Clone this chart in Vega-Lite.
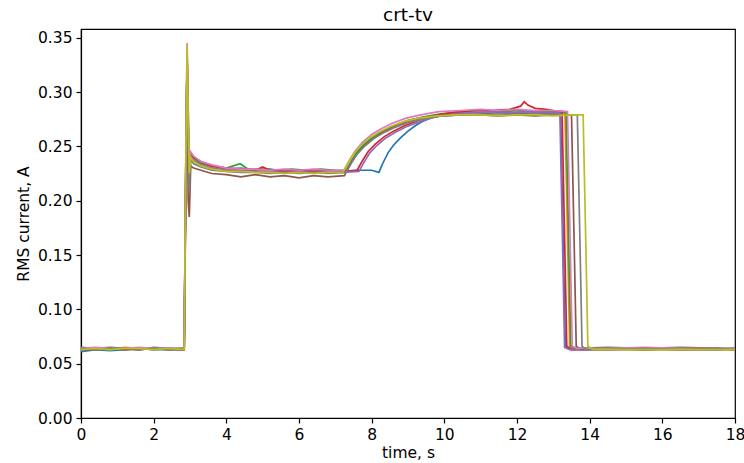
{
  "$schema": "https://vega.github.io/schema/vega-lite/v6.json",
  "width": 654,
  "height": 389,
  "autosize": "none",
  "padding": {"left": 81, "top": 29, "right": 9, "bottom": 45},
  "background": "white",
  "title": {"text": "crt-tv", "font": "DejaVu Sans", "fontSize": 18.5, "fontWeight": "normal", "color": "black", "anchor": "middle", "offset": 5},
  "config": {
    "view": {"stroke": "black", "strokeWidth": 1.2},
    "axis": {
      "labelFont": "DejaVu Sans", "labelFontSize": 15.5, "labelColor": "black", "labelFlush": false,
      "titleFont": "DejaVu Sans", "titleFontSize": 15.5, "titleFontWeight": "normal", "titleColor": "black",
      "domainColor": "black", "domainWidth": 1.2, "tickColor": "black", "tickWidth": 1.2, "tickSize": 5,
      "grid": false, "labelPadding": 4
    }
  },
  "data": {"values": [
    {"r":"r1","t":0,"a":0.061},{"r":"r1","t":0.4,"a":0.063},{"r":"r1","t":0.8,"a":0.062},{"r":"r1","t":1.2,"a":0.063},{"r":"r1","t":1.6,"a":0.064},{"r":"r1","t":2.0,"a":0.063},{"r":"r1","t":2.4,"a":0.063},{"r":"r1","t":2.84,"a":0.063},
    {"r":"r1","t":2.88,"a":0.21},{"r":"r1","t":2.92,"a":0.33},{"r":"r1","t":2.95,"a":0.27},{"r":"r1","t":2.98,"a":0.225},{"r":"r1","t":3.02,"a":0.242},{"r":"r1","t":3.1,"a":0.236},
    {"r":"r1","t":3.3,"a":0.234},{"r":"r1","t":3.6,"a":0.231},{"r":"r1","t":4.0,"a":0.229},{"r":"r1","t":4.4,"a":0.23},{"r":"r1","t":4.8,"a":0.228},{"r":"r1","t":5.2,"a":0.229},{"r":"r1","t":5.6,"a":0.227},{"r":"r1","t":6.0,"a":0.228},{"r":"r1","t":6.4,"a":0.227},{"r":"r1","t":6.8,"a":0.228},{"r":"r1","t":7.2,"a":0.227},{"r":"r1","t":7.6,"a":0.228},{"r":"r1","t":8.0,"a":0.228},{"r":"r1","t":8.2,"a":0.226},
    {"r":"r1","t":8.3,"a":0.234},{"r":"r1","t":8.45,"a":0.244},{"r":"r1","t":8.6,"a":0.251},{"r":"r1","t":8.8,"a":0.258},{"r":"r1","t":9.0,"a":0.264},{"r":"r1","t":9.2,"a":0.269},{"r":"r1","t":9.4,"a":0.273},{"r":"r1","t":9.6,"a":0.276},{"r":"r1","t":9.9,"a":0.278},{"r":"r1","t":10.4,"a":0.279},
    {"r":"r1","t":11.0,"a":0.28},{"r":"r1","t":11.5,"a":0.281},{"r":"r1","t":12.0,"a":0.28},{"r":"r1","t":12.5,"a":0.281},{"r":"r1","t":13.0,"a":0.28},{"r":"r1","t":13.2,"a":0.28},
    {"r":"r1","t":13.28,"a":0.15},{"r":"r1","t":13.33,"a":0.066},{"r":"r1","t":13.5,"a":0.063},{"r":"r1","t":14.5,"a":0.064},{"r":"r1","t":15.5,"a":0.063},{"r":"r1","t":16.5,"a":0.064},{"r":"r1","t":17.5,"a":0.063},{"r":"r1","t":18,"a":0.064},

    {"r":"r2","t":0,"a":0.064},{"r":"r2","t":0.4,"a":0.064},{"r":"r2","t":0.8,"a":0.063},{"r":"r2","t":1.2,"a":0.065},{"r":"r2","t":1.6,"a":0.064},{"r":"r2","t":2.0,"a":0.064},{"r":"r2","t":2.4,"a":0.063},{"r":"r2","t":2.84,"a":0.064},
    {"r":"r2","t":2.88,"a":0.2},{"r":"r2","t":2.92,"a":0.335},{"r":"r2","t":2.95,"a":0.26},{"r":"r2","t":2.98,"a":0.215},{"r":"r2","t":3.02,"a":0.24},{"r":"r2","t":3.1,"a":0.237},
    {"r":"r2","t":3.3,"a":0.233},{"r":"r2","t":3.6,"a":0.231},{"r":"r2","t":4.0,"a":0.228},{"r":"r2","t":4.4,"a":0.229},{"r":"r2","t":4.8,"a":0.227},{"r":"r2","t":5.2,"a":0.228},{"r":"r2","t":5.6,"a":0.226},{"r":"r2","t":6.0,"a":0.227},{"r":"r2","t":6.4,"a":0.228},{"r":"r2","t":6.8,"a":0.226},{"r":"r2","t":7.1,"a":0.227},{"r":"r2","t":7.3,"a":0.227},
    {"r":"r2","t":7.45,"a":0.236},{"r":"r2","t":7.6,"a":0.244},{"r":"r2","t":7.8,"a":0.251},{"r":"r2","t":8.05,"a":0.258},{"r":"r2","t":8.3,"a":0.263},{"r":"r2","t":8.6,"a":0.268},{"r":"r2","t":9.0,"a":0.273},{"r":"r2","t":9.4,"a":0.276},{"r":"r2","t":9.9,"a":0.279},{"r":"r2","t":10.5,"a":0.281},
    {"r":"r2","t":11.0,"a":0.281},{"r":"r2","t":11.5,"a":0.282},{"r":"r2","t":12.0,"a":0.281},{"r":"r2","t":12.5,"a":0.282},{"r":"r2","t":13.0,"a":0.281},{"r":"r2","t":13.32,"a":0.281},
    {"r":"r2","t":13.4,"a":0.15},{"r":"r2","t":13.45,"a":0.066},{"r":"r2","t":13.6,"a":0.063},{"r":"r2","t":14.5,"a":0.064},{"r":"r2","t":15.5,"a":0.064},{"r":"r2","t":16.5,"a":0.063},{"r":"r2","t":17.5,"a":0.064},{"r":"r2","t":18,"a":0.063},

    {"r":"r3","t":0,"a":0.065},{"r":"r3","t":0.4,"a":0.064},{"r":"r3","t":0.8,"a":0.065},{"r":"r3","t":1.2,"a":0.064},{"r":"r3","t":1.6,"a":0.063},{"r":"r3","t":2.0,"a":0.065},{"r":"r3","t":2.4,"a":0.064},{"r":"r3","t":2.84,"a":0.064},
    {"r":"r3","t":2.88,"a":0.22},{"r":"r3","t":2.92,"a":0.33},{"r":"r3","t":2.95,"a":0.28},{"r":"r3","t":2.98,"a":0.23},{"r":"r3","t":3.02,"a":0.243},{"r":"r3","t":3.1,"a":0.239},
    {"r":"r3","t":3.3,"a":0.235},{"r":"r3","t":3.6,"a":0.232},{"r":"r3","t":4.0,"a":0.23},{"r":"r3","t":4.38,"a":0.234},{"r":"r3","t":4.6,"a":0.229},{"r":"r3","t":5.0,"a":0.229},{"r":"r3","t":5.4,"a":0.228},{"r":"r3","t":5.8,"a":0.229},{"r":"r3","t":6.2,"a":0.228},{"r":"r3","t":6.6,"a":0.229},{"r":"r3","t":7.0,"a":0.228},{"r":"r3","t":7.3,"a":0.228},
    {"r":"r3","t":7.45,"a":0.237},{"r":"r3","t":7.6,"a":0.245},{"r":"r3","t":7.8,"a":0.252},{"r":"r3","t":8.05,"a":0.259},{"r":"r3","t":8.3,"a":0.264},{"r":"r3","t":8.6,"a":0.269},{"r":"r3","t":9.0,"a":0.274},{"r":"r3","t":9.4,"a":0.277},{"r":"r3","t":9.9,"a":0.28},{"r":"r3","t":10.5,"a":0.282},
    {"r":"r3","t":11.0,"a":0.283},{"r":"r3","t":11.5,"a":0.282},{"r":"r3","t":12.0,"a":0.283},{"r":"r3","t":12.5,"a":0.282},{"r":"r3","t":13.0,"a":0.282},{"r":"r3","t":13.35,"a":0.281},
    {"r":"r3","t":13.43,"a":0.15},{"r":"r3","t":13.48,"a":0.066},{"r":"r3","t":13.6,"a":0.064},{"r":"r3","t":14.5,"a":0.065},{"r":"r3","t":15.5,"a":0.064},{"r":"r3","t":16.5,"a":0.065},{"r":"r3","t":17.5,"a":0.064},{"r":"r3","t":18,"a":0.064},

    {"r":"r4","t":0,"a":0.063},{"r":"r4","t":0.4,"a":0.064},{"r":"r4","t":0.8,"a":0.064},{"r":"r4","t":1.2,"a":0.063},{"r":"r4","t":1.6,"a":0.064},{"r":"r4","t":2.0,"a":0.063},{"r":"r4","t":2.4,"a":0.064},{"r":"r4","t":2.84,"a":0.063},
    {"r":"r4","t":2.88,"a":0.215},{"r":"r4","t":2.92,"a":0.338},{"r":"r4","t":2.95,"a":0.27},{"r":"r4","t":2.98,"a":0.22},{"r":"r4","t":3.02,"a":0.244},{"r":"r4","t":3.1,"a":0.24},
    {"r":"r4","t":3.3,"a":0.236},{"r":"r4","t":3.6,"a":0.232},{"r":"r4","t":4.0,"a":0.23},{"r":"r4","t":4.4,"a":0.229},{"r":"r4","t":4.8,"a":0.228},{"r":"r4","t":5.0,"a":0.231},{"r":"r4","t":5.2,"a":0.228},{"r":"r4","t":5.6,"a":0.227},{"r":"r4","t":6.0,"a":0.228},{"r":"r4","t":6.4,"a":0.227},{"r":"r4","t":6.8,"a":0.228},{"r":"r4","t":7.2,"a":0.227},{"r":"r4","t":7.6,"a":0.228},
    {"r":"r4","t":7.75,"a":0.237},{"r":"r4","t":7.9,"a":0.245},{"r":"r4","t":8.1,"a":0.252},{"r":"r4","t":8.35,"a":0.259},{"r":"r4","t":8.6,"a":0.264},{"r":"r4","t":8.9,"a":0.269},{"r":"r4","t":9.3,"a":0.274},{"r":"r4","t":9.7,"a":0.278},{"r":"r4","t":10.2,"a":0.281},{"r":"r4","t":10.8,"a":0.283},
    {"r":"r4","t":11.3,"a":0.283},{"r":"r4","t":11.8,"a":0.284},{"r":"r4","t":12.1,"a":0.287},{"r":"r4","t":12.2,"a":0.291},{"r":"r4","t":12.3,"a":0.288},{"r":"r4","t":12.5,"a":0.285},{"r":"r4","t":12.8,"a":0.284},{"r":"r4","t":13.0,"a":0.283},{"r":"r4","t":13.24,"a":0.282},
    {"r":"r4","t":13.32,"a":0.15},{"r":"r4","t":13.37,"a":0.066},{"r":"r4","t":13.5,"a":0.063},{"r":"r4","t":14.5,"a":0.064},{"r":"r4","t":15.5,"a":0.063},{"r":"r4","t":16.5,"a":0.064},{"r":"r4","t":17.5,"a":0.064},{"r":"r4","t":18,"a":0.063},

    {"r":"r5","t":0,"a":0.064},{"r":"r5","t":0.4,"a":0.063},{"r":"r5","t":0.8,"a":0.064},{"r":"r5","t":1.2,"a":0.064},{"r":"r5","t":1.6,"a":0.063},{"r":"r5","t":2.0,"a":0.064},{"r":"r5","t":2.4,"a":0.064},{"r":"r5","t":2.84,"a":0.063},
    {"r":"r5","t":2.88,"a":0.205},{"r":"r5","t":2.92,"a":0.332},{"r":"r5","t":2.95,"a":0.265},{"r":"r5","t":2.98,"a":0.22},{"r":"r5","t":3.02,"a":0.241},{"r":"r5","t":3.1,"a":0.237},
    {"r":"r5","t":3.3,"a":0.233},{"r":"r5","t":3.6,"a":0.23},{"r":"r5","t":4.0,"a":0.228},{"r":"r5","t":4.4,"a":0.228},{"r":"r5","t":4.8,"a":0.227},{"r":"r5","t":5.2,"a":0.227},{"r":"r5","t":5.6,"a":0.226},{"r":"r5","t":6.0,"a":0.227},{"r":"r5","t":6.4,"a":0.226},{"r":"r5","t":6.8,"a":0.227},{"r":"r5","t":7.2,"a":0.226},{"r":"r5","t":7.65,"a":0.227},
    {"r":"r5","t":7.8,"a":0.236},{"r":"r5","t":7.95,"a":0.244},{"r":"r5","t":8.15,"a":0.251},{"r":"r5","t":8.4,"a":0.258},{"r":"r5","t":8.65,"a":0.263},{"r":"r5","t":8.95,"a":0.268},{"r":"r5","t":9.35,"a":0.273},{"r":"r5","t":9.75,"a":0.277},{"r":"r5","t":10.25,"a":0.28},{"r":"r5","t":10.8,"a":0.281},
    {"r":"r5","t":11.3,"a":0.282},{"r":"r5","t":11.8,"a":0.281},{"r":"r5","t":12.3,"a":0.282},{"r":"r5","t":12.8,"a":0.281},{"r":"r5","t":13.18,"a":0.281},
    {"r":"r5","t":13.26,"a":0.15},{"r":"r5","t":13.31,"a":0.065},{"r":"r5","t":13.45,"a":0.063},{"r":"r5","t":14.5,"a":0.063},{"r":"r5","t":15.5,"a":0.064},{"r":"r5","t":16.5,"a":0.063},{"r":"r5","t":17.5,"a":0.063},{"r":"r5","t":18,"a":0.064},

    {"r":"r6","t":0,"a":0.063},{"r":"r6","t":0.4,"a":0.063},{"r":"r6","t":0.8,"a":0.064},{"r":"r6","t":1.2,"a":0.063},{"r":"r6","t":1.6,"a":0.063},{"r":"r6","t":2.0,"a":0.064},{"r":"r6","t":2.4,"a":0.063},{"r":"r6","t":2.84,"a":0.063},
    {"r":"r6","t":2.88,"a":0.19},{"r":"r6","t":2.92,"a":0.33},{"r":"r6","t":2.95,"a":0.2},{"r":"r6","t":2.98,"a":0.185},{"r":"r6","t":3.02,"a":0.232},{"r":"r6","t":3.1,"a":0.23},
    {"r":"r6","t":3.3,"a":0.228},{"r":"r6","t":3.6,"a":0.225},{"r":"r6","t":4.0,"a":0.224},{"r":"r6","t":4.4,"a":0.222},{"r":"r6","t":4.8,"a":0.224},{"r":"r6","t":5.2,"a":0.222},{"r":"r6","t":5.6,"a":0.223},{"r":"r6","t":6.0,"a":0.221},{"r":"r6","t":6.4,"a":0.223},{"r":"r6","t":6.8,"a":0.222},{"r":"r6","t":7.25,"a":0.223},
    {"r":"r6","t":7.4,"a":0.233},{"r":"r6","t":7.55,"a":0.241},{"r":"r6","t":7.75,"a":0.249},{"r":"r6","t":8.0,"a":0.256},{"r":"r6","t":8.25,"a":0.262},{"r":"r6","t":8.55,"a":0.267},{"r":"r6","t":8.95,"a":0.272},{"r":"r6","t":9.35,"a":0.276},{"r":"r6","t":9.85,"a":0.278},{"r":"r6","t":10.45,"a":0.279},
    {"r":"r6","t":11.0,"a":0.279},{"r":"r6","t":11.5,"a":0.278},{"r":"r6","t":12.0,"a":0.279},{"r":"r6","t":12.5,"a":0.278},{"r":"r6","t":13.0,"a":0.279},{"r":"r6","t":13.5,"a":0.279},
    {"r":"r6","t":13.58,"a":0.15},{"r":"r6","t":13.63,"a":0.066},{"r":"r6","t":13.75,"a":0.063},{"r":"r6","t":14.5,"a":0.063},{"r":"r6","t":15.5,"a":0.063},{"r":"r6","t":16.5,"a":0.063},{"r":"r6","t":17.5,"a":0.063},{"r":"r6","t":18,"a":0.063},

    {"r":"r7","t":0,"a":0.064},{"r":"r7","t":0.4,"a":0.065},{"r":"r7","t":0.8,"a":0.064},{"r":"r7","t":1.2,"a":0.064},{"r":"r7","t":1.6,"a":0.065},{"r":"r7","t":2.0,"a":0.064},{"r":"r7","t":2.4,"a":0.064},{"r":"r7","t":2.84,"a":0.064},
    {"r":"r7","t":2.88,"a":0.23},{"r":"r7","t":2.92,"a":0.345},{"r":"r7","t":2.95,"a":0.29},{"r":"r7","t":2.98,"a":0.235},{"r":"r7","t":3.02,"a":0.245},{"r":"r7","t":3.1,"a":0.241},
    {"r":"r7","t":3.3,"a":0.236},{"r":"r7","t":3.6,"a":0.233},{"r":"r7","t":4.0,"a":0.23},{"r":"r7","t":4.4,"a":0.229},{"r":"r7","t":4.8,"a":0.229},{"r":"r7","t":5.2,"a":0.228},{"r":"r7","t":5.6,"a":0.229},{"r":"r7","t":6.0,"a":0.228},{"r":"r7","t":6.4,"a":0.229},{"r":"r7","t":6.8,"a":0.228},{"r":"r7","t":7.25,"a":0.228},
    {"r":"r7","t":7.4,"a":0.238},{"r":"r7","t":7.55,"a":0.246},{"r":"r7","t":7.75,"a":0.254},{"r":"r7","t":8.0,"a":0.261},{"r":"r7","t":8.25,"a":0.266},{"r":"r7","t":8.55,"a":0.271},{"r":"r7","t":8.95,"a":0.276},{"r":"r7","t":9.35,"a":0.279},{"r":"r7","t":9.85,"a":0.282},{"r":"r7","t":10.45,"a":0.283},
    {"r":"r7","t":11.0,"a":0.284},{"r":"r7","t":11.5,"a":0.283},{"r":"r7","t":12.0,"a":0.284},{"r":"r7","t":12.5,"a":0.283},{"r":"r7","t":13.0,"a":0.283},{"r":"r7","t":13.39,"a":0.282},
    {"r":"r7","t":13.47,"a":0.15},{"r":"r7","t":13.52,"a":0.066},{"r":"r7","t":13.65,"a":0.064},{"r":"r7","t":14.5,"a":0.064},{"r":"r7","t":15.5,"a":0.065},{"r":"r7","t":16.5,"a":0.064},{"r":"r7","t":17.5,"a":0.064},{"r":"r7","t":18,"a":0.064},

    {"r":"r8","t":0,"a":0.064},{"r":"r8","t":0.4,"a":0.063},{"r":"r8","t":0.8,"a":0.064},{"r":"r8","t":1.2,"a":0.064},{"r":"r8","t":1.6,"a":0.063},{"r":"r8","t":2.0,"a":0.064},{"r":"r8","t":2.4,"a":0.063},{"r":"r8","t":2.84,"a":0.064},
    {"r":"r8","t":2.88,"a":0.2},{"r":"r8","t":2.92,"a":0.33},{"r":"r8","t":2.95,"a":0.25},{"r":"r8","t":2.98,"a":0.21},{"r":"r8","t":3.02,"a":0.238},{"r":"r8","t":3.1,"a":0.234},
    {"r":"r8","t":3.3,"a":0.231},{"r":"r8","t":3.6,"a":0.228},{"r":"r8","t":4.0,"a":0.227},{"r":"r8","t":4.4,"a":0.226},{"r":"r8","t":4.8,"a":0.226},{"r":"r8","t":5.2,"a":0.225},{"r":"r8","t":5.6,"a":0.226},{"r":"r8","t":6.0,"a":0.225},{"r":"r8","t":6.4,"a":0.226},{"r":"r8","t":6.8,"a":0.225},{"r":"r8","t":7.3,"a":0.226},
    {"r":"r8","t":7.45,"a":0.235},{"r":"r8","t":7.6,"a":0.243},{"r":"r8","t":7.8,"a":0.25},{"r":"r8","t":8.05,"a":0.257},{"r":"r8","t":8.3,"a":0.262},{"r":"r8","t":8.6,"a":0.267},{"r":"r8","t":9.0,"a":0.272},{"r":"r8","t":9.4,"a":0.275},{"r":"r8","t":9.9,"a":0.278},{"r":"r8","t":10.5,"a":0.279},
    {"r":"r8","t":11.0,"a":0.279},{"r":"r8","t":11.5,"a":0.28},{"r":"r8","t":12.0,"a":0.279},{"r":"r8","t":12.5,"a":0.28},{"r":"r8","t":13.0,"a":0.279},{"r":"r8","t":13.66,"a":0.279},
    {"r":"r8","t":13.74,"a":0.15},{"r":"r8","t":13.79,"a":0.066},{"r":"r8","t":13.9,"a":0.063},{"r":"r8","t":14.5,"a":0.063},{"r":"r8","t":15.5,"a":0.064},{"r":"r8","t":16.5,"a":0.063},{"r":"r8","t":17.5,"a":0.064},{"r":"r8","t":18,"a":0.063},

    {"r":"r9","t":0,"a":0.063},{"r":"r9","t":0.4,"a":0.064},{"r":"r9","t":0.8,"a":0.063},{"r":"r9","t":1.2,"a":0.064},{"r":"r9","t":1.6,"a":0.064},{"r":"r9","t":2.0,"a":0.063},{"r":"r9","t":2.4,"a":0.064},{"r":"r9","t":2.84,"a":0.063},
    {"r":"r9","t":2.88,"a":0.22},{"r":"r9","t":2.92,"a":0.343},{"r":"r9","t":2.95,"a":0.27},{"r":"r9","t":2.98,"a":0.225},{"r":"r9","t":3.02,"a":0.24},{"r":"r9","t":3.1,"a":0.236},
    {"r":"r9","t":3.3,"a":0.232},{"r":"r9","t":3.6,"a":0.229},{"r":"r9","t":4.0,"a":0.227},{"r":"r9","t":4.4,"a":0.227},{"r":"r9","t":4.8,"a":0.226},{"r":"r9","t":5.2,"a":0.226},{"r":"r9","t":5.6,"a":0.225},{"r":"r9","t":6.0,"a":0.226},{"r":"r9","t":6.4,"a":0.225},{"r":"r9","t":6.8,"a":0.226},{"r":"r9","t":7.2,"a":0.226},
    {"r":"r9","t":7.35,"a":0.235},{"r":"r9","t":7.5,"a":0.243},{"r":"r9","t":7.7,"a":0.251},{"r":"r9","t":7.95,"a":0.258},{"r":"r9","t":8.2,"a":0.263},{"r":"r9","t":8.5,"a":0.268},{"r":"r9","t":8.9,"a":0.273},{"r":"r9","t":9.3,"a":0.276},{"r":"r9","t":9.8,"a":0.278},{"r":"r9","t":10.4,"a":0.279},
    {"r":"r9","t":11.0,"a":0.279},{"r":"r9","t":11.5,"a":0.278},{"r":"r9","t":12.0,"a":0.279},{"r":"r9","t":12.5,"a":0.279},{"r":"r9","t":13.0,"a":0.278},{"r":"r9","t":13.5,"a":0.279},{"r":"r9","t":13.82,"a":0.279},
    {"r":"r9","t":13.9,"a":0.15},{"r":"r9","t":13.95,"a":0.066},{"r":"r9","t":14.1,"a":0.063},{"r":"r9","t":15.0,"a":0.063},{"r":"r9","t":16.0,"a":0.063},{"r":"r9","t":17.0,"a":0.063},{"r":"r9","t":18,"a":0.063}
  ]},
  "mark": {"type": "line", "strokeWidth": 1.7, "clip": true},
  "encoding": {
    "x": {"field": "t", "type": "quantitative", "scale": {"domain": [0, 18], "nice": false, "zero": false},
          "axis": {"title": "time, s", "values": [0,2,4,6,8,10,12,14,16,18], "titlePadding": 3}},
    "y": {"field": "a", "type": "quantitative", "scale": {"domain": [0, 0.358], "nice": false},
          "axis": {"title": "RMS current, A", "values": [0,0.05,0.1,0.15,0.2,0.25,0.3,0.35], "format": ".2f", "titlePadding": 6}},
    "color": {"field": "r", "type": "nominal", "legend": null,
              "scale": {"domain": ["r1","r2","r3","r4","r5","r6","r7","r8","r9"],
                        "range": ["#1f77b4","#ff7f0e","#2ca02c","#d62728","#9467bd","#8c564b","#e377c2","#7f7f7f","#bcbd22"]}}
  }
}
